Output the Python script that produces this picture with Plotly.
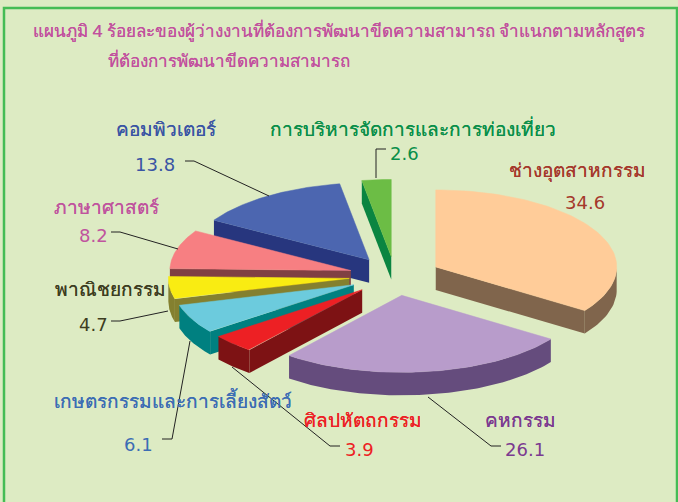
import numpy as np
import plotly.graph_objects as go

# Data
categories = ["ช่างอุตสาหกรรม", "คหกรรม", "ศิลปหัตถกรรม", "เกษตรกรรมและการเลี้ยงสัตว์",
              "พาณิชยกรรม", "ภาษาศาสตร์", "คอมพิวเตอร์", "การบริหารจัดการและการท่องเที่ยว"]
values = [34.6, 26.1, 3.9, 6.1, 4.7, 8.2, 13.8, 2.6]
value_labels = ["34.6", "26.1", "3.9", "6.1", "4.7", "8.2", "13.8", "2.6"]
top_colors = ["#FFCC99", "#B89CCB", "#ED2024", "#6CCBDD", "#F9EC12", "#F77F82", "#4C66B0", "#6CBD45"]
side_colors = ["#80654C", "#654C7D", "#7D1214", "#008080", "#84802F", "#804043", "#27367E", "#0A8541"]
label_colors = ["#A5382B", "#7B3A90", "#ED2024", "#3C6DB4", "#3D3D22", "#C0549E", "#3A55A4", "#0A8F4A"]
title_lines = ["แผนภูมิ 4 ร้อยละของผู้ว่างงานที่ต้องการพัฒนาขีดความสามารถ จำแนกตามหลักสูตร",
               "ที่ต้องการพัฒนาขีดความสามารถ"]

# Layout of the projected pie (pixels)
CX, CY, RX, RY, DEPTH, EXPLODE = 395, 276, 181, 77, 23, 46
BG, FRAME = "#DDEBC3", "#45BC55"
FONT = "Noto Sans, DejaVu Sans, sans-serif"
NUM_FONT = "DejaVu Sans"

cum = np.cumsum([0] + values) / sum(values) * 2 * np.pi
fig = go.Figure()


def poly(x, y, color, width=0.0):
    fig.add_trace(go.Scatter(x=list(x) + [x[0]], y=list(y) + [y[0]], mode="lines", fill="toself",
                             fillcolor=color, line=dict(color=color, width=width),
                             hoverinfo="skip", showlegend=False))


# back to front
order = [7, 6, 5, 4, 3, 2, 0, 1]
for i in order:
    a0, a1 = cum[i], cum[i + 1]
    mid = (a0 + a1) / 2
    ax = CX + EXPLODE * np.sin(mid)
    ay = CY - EXPLODE * np.cos(mid) * RY / RX
    t = np.linspace(a0, a1, 80)
    ex = ax + RX * np.sin(t)
    ey = ay - RY * np.cos(t)
    # visible radial walls
    if a0 > np.pi:
        poly([ax, ex[0], ex[0], ax], [ay, ey[0], ey[0] + DEPTH, ay + DEPTH], side_colors[i])
    if a1 < np.pi:
        poly([ax, ex[-1], ex[-1], ax], [ay, ey[-1], ey[-1] + DEPTH, ay + DEPTH], side_colors[i])
    # visible part of the outer rim (front half of the ellipse)
    front = (t > np.pi / 2) & (t < 3 * np.pi / 2)
    if front.sum() > 1:
        rx, ry = ex[front], ey[front]
        poly(list(rx) + list(rx[::-1]), list(ry) + list(ry[::-1] + DEPTH), side_colors[i])
    # top face
    poly([ax] + list(ex), [ay] + list(ey), top_colors[i], 0.5)

leaders = [
    [(185, 161), (194, 161), (269, 196)],
    [(376, 178), (376, 149), (386, 149)],
    [(111, 232), (120, 232), (178, 249)],
    [(111, 321), (120, 321), (168, 311)],
    [(162, 439), (172, 439), (190, 341)],
    [(340, 446), (330, 446), (232, 367)],
    [(501, 446), (491, 446), (428, 397)],
]
shapes = [dict(type="rect", xref="x", yref="y", x0=4, y0=8, x1=677, y1=520,
               line=dict(color=FRAME, width=2.5), fillcolor="rgba(0,0,0,0)")]
for pts in leaders:
    for p, q in zip(pts[:-1], pts[1:]):
        shapes.append(dict(type="line", xref="x", yref="y", x0=p[0], y0=p[1], x1=q[0], y1=q[1],
                           line=dict(color="#222222", width=1)))

# text positions: (cat x, cat y, value x, value y)
label_pos = [
    (577, 170, 585, 202), (520, 420, 525, 449), (363, 420, 359, 449), (173, 401, 138, 444),
    (110, 289, 93, 324), (106, 207, 93, 235), (166, 129, 155, 164), (413, 129, 404, 153),
]
ann = []
for i, (cx, cy, vx, vy) in enumerate(label_pos):
    c = label_colors[i]
    ann.append(dict(x=cx, y=cy, text=categories[i], showarrow=False, xref="x", yref="y",
                    font=dict(size=19, color=c, family=FONT, shadow=f"0.3px 0 0 {c}")))
    ann.append(dict(x=vx, y=vy, text=value_labels[i], showarrow=False, xref="x", yref="y",
                    font=dict(size=18, color=c, family=NUM_FONT)))
for txt, x, y in zip(title_lines, [31, 106], [30, 60]):
    ann.append(dict(x=x, y=y, text=txt, showarrow=False, xanchor="left", xref="x", yref="y",
                    font=dict(size=17, color="#C2509E", family=FONT, shadow="0.3px 0 0 #C2509E")))

fig.update_layout(
    width=678, height=502, margin=dict(l=0, r=0, t=0, b=0),
    paper_bgcolor=BG, plot_bgcolor=BG, showlegend=False, shapes=shapes, annotations=ann,
    xaxis=dict(range=[0, 678], visible=False, fixedrange=True),
    yaxis=dict(range=[502, 0], visible=False, fixedrange=True),
)
fig.write_html("out.html", config={"displayModeBar": False},
               post_script="document.body.style.margin='0';document.body.style.overflow='hidden';")
